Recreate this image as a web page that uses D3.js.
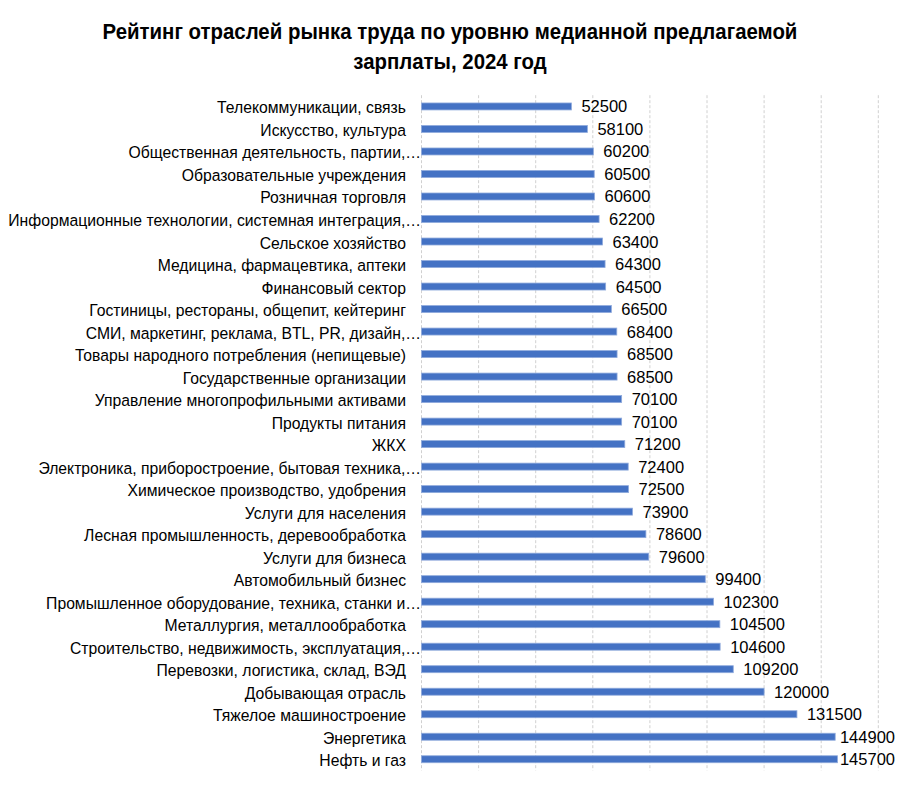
<!DOCTYPE html>
<html><head><meta charset="utf-8">
<script src="https://cdn.jsdelivr.net/npm/d3@7"></script>
<style>body{margin:0;background:#fff}</style>
</head><body><svg id="c" width="900" height="792"></svg>
<script>
const categories = [
"Телекоммуникации, связь","Искусство, культура","Общественная деятельность, партии,…","Образовательные учреждения","Розничная торговля","Информационные технологии, системная интеграция,…","Сельское хозяйство","Медицина, фармацевтика, аптеки","Финансовый сектор","Гостиницы, рестораны, общепит, кейтеринг","СМИ, маркетинг, реклама, BTL, PR, дизайн,…","Товары народного потребления (непищевые)","Государственные организации","Управление многопрофильными активами","Продукты питания","ЖКХ","Электроника, приборостроение, бытовая техника,…","Химическое производство, удобрения","Услуги для населения","Лесная промышленность, деревообработка","Услуги для бизнеса","Автомобильный бизнес","Промышленное оборудование, техника, станки и…","Металлургия, металлообработка","Строительство, недвижимость, эксплуатация,…","Перевозки, логистика, склад, ВЭД","Добывающая отрасль","Тяжелое машиностроение","Энергетика","Нефть и газ"];
const values = [52500,58100,60200,60500,60600,62200,63400,64300,64500,66500,68400,68500,68500,70100,70100,71200,72400,72500,73900,78600,79600,99400,102300,104500,104600,109200,120000,131500,144900,145700];
const gridTicks = [0,20000,40000,60000,80000,100000,120000,140000,160000];
const titleLines = ["Рейтинг отраслей рынка труда по уровню медианной предлагаемой","зарплаты, 2024 год"];

const svg = d3.select("#c");
const font = "'Liberation Sans',Arial,sans-serif";
const pL = 421.5, pR = 878.3, pT = 95.2, pB = 770.5;
const x = d3.scaleLinear().domain([0,160000]).range([pL,pR]);
const y = d3.scaleBand().domain(categories).range([pT,pB]).paddingInner(0.69).paddingOuter(0.345);

svg.append("g").selectAll("line").data(gridTicks).join("line")
  .attr("x1",d=>x(d)).attr("x2",d=>x(d)).attr("y1",pT).attr("y2",pB)
  .attr("stroke","#d0d0d0").attr("stroke-width",1).attr("stroke-dasharray","3,2");

svg.append("g").selectAll("rect").data(values).join("rect")
  .attr("x",x(0)).attr("y",(d,i)=>y(categories[i]))
  .attr("width",d=>x(d)-x(0)).attr("height",y.bandwidth())
  .attr("fill","#4472C4").attr("stroke","#8FAADC").attr("stroke-width",0.8);

const vl = svg.append("g").selectAll("text").data(values).join("text")
  .attr("y",(d,i)=>y(categories[i])+y.bandwidth()/2+6)
  .attr("font-family",font).attr("font-size",16.5).attr("fill","#000")
  .text(d=>d);
vl.attr("x",function(d){const w=this.getComputedTextLength();return Math.min(x(d)+10,895-w);});

svg.append("g").selectAll("text").data(categories).join("text")
  .attr("transform",d=>`translate(${d.endsWith("…")?421:406},${y(d)+y.bandwidth()/2+7}) scale(0.965,1)`)
  .attr("text-anchor","end").attr("font-family",font).attr("font-size",16.3).attr("fill","#000")
  .text(d=>d);

svg.append("g").selectAll("text").data(titleLines).join("text")
  .attr("transform",(d,i)=>`translate(450,${39+i*30.3}) scale(0.907,1)`).attr("text-anchor","middle")
  .attr("font-family",font).attr("font-weight","bold").attr("font-size",22.5).attr("fill","#000")
  .text(d=>d);
</script></body></html>
